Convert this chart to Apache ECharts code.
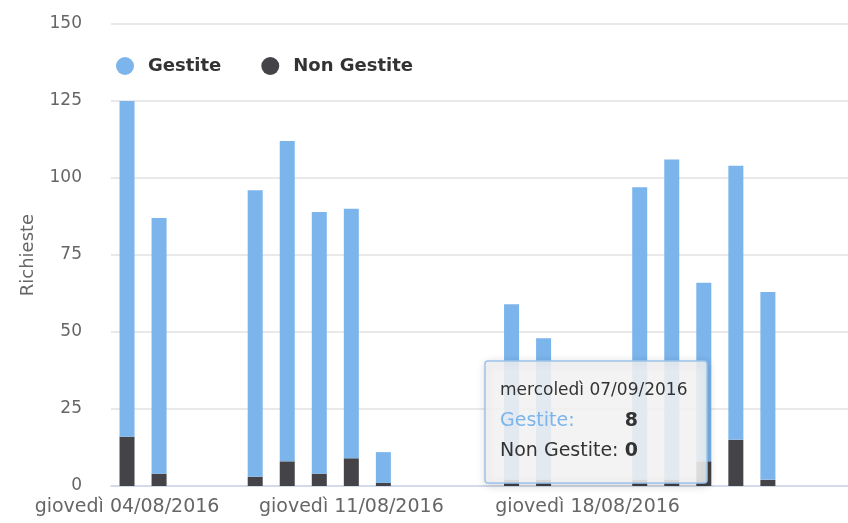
<!DOCTYPE html>
<html>
<head>
<meta charset="utf-8">
<script src="https://cdn.jsdelivr.net/npm/echarts@6/dist/echarts.min.js"></script>
<style>
html,body{margin:0;padding:0;background:#fff;}
#chart{width:848px;height:523px;}
</style>
</head>
<body>
<div id="chart"></div>
<script>
// Categories (days; the mid-August gap is compressed in the reference)
const categories = [
  'giovedì 04/08/2016','venerdì 05/08/2016','sabato 06/08/2016','domenica 07/08/2016',
  'lunedì 08/08/2016','martedì 09/08/2016','mercoledì 10/08/2016','giovedì 11/08/2016',
  'venerdì 12/08/2016','sabato 13/08/2016','lunedì 15/08/2016','mercoledì 17/08/2016',
  'giovedì 18/08/2016','venerdì 19/08/2016','sabato 20/08/2016','domenica 21/08/2016',
  'lunedì 22/08/2016','martedì 23/08/2016','mercoledì 24/08/2016','giovedì 25/08/2016',
  'venerdì 26/08/2016','sabato 27/08/2016','domenica 28/08/2016'
];
const gestite    = [109, 83, null, null, 93, 104, 85, 81, 10, null, null, null, 57, 46, null, null, 95, 104, 58, 89, 61, null, null];
const nonGestite = [16, 4, null, null, 3, 8, 4, 9, 1, null, null, null, 2, 2, null, null, 2, 2, 8, 15, 2, null, null];
const tickLabels = ['giovedì 04/08/2016','giovedì 11/08/2016','giovedì 18/08/2016'];
const shiftedLabel = 'giovedì 18/08/2016';
const yTicks = {min: 0, max: 150, interval: 25};
const seriesNames = ['Gestite', 'Non Gestite'];
const tooltipHeader = 'mercoledì 07/09/2016';
const tooltipRows = [['Gestite:', '8'], ['Non Gestite:', '0']];

const FONT = '"DejaVu Sans", sans-serif';
const tickIdx = tickLabels.map(l => categories.indexOf(l));
const shiftIdx = categories.indexOf(shiftedLabel);

const chart = echarts.init(document.getElementById('chart'), null, {renderer: 'canvas'});
chart.setOption({
  backgroundColor: '#ffffff',
  animation: false,
  grid: {left: 111, right: -2, top: 24, bottom: 37, containLabel: false},
  legend: {
    data: seriesNames,
    icon: 'circle',
    left: 111, top: 52,
    itemWidth: 18, itemHeight: 18,
    itemGap: 40,
    textStyle: {color: '#333333', fontWeight: 'bold', fontSize: 18, fontFamily: FONT, padding: [0, 0, 0, 9]}
  },
  xAxis: {
    type: 'category',
    data: categories,
    boundaryGap: true,
    axisLine: {lineStyle: {color: '#ccd6eb', width: 1.5}},
    axisTick: {
      alignWithLabel: true, length: 10,
      interval: (i) => tickIdx.includes(i),
      lineStyle: {color: '#ccd6eb', width: 1.5}
    },
    axisLabel: {
      interval: (i) => tickIdx.includes(i),
      color: '#666666', fontSize: 19, fontFamily: FONT, margin: 12,
      formatter: (v, i) => (i === shiftIdx ? '{s|' + v + '}' : v),
      rich: {s: {padding: [0, 0, 0, 152], color: '#666666', fontSize: 19, fontFamily: FONT}}
    },
    splitLine: {show: false}
  },
  yAxis: {
    type: 'value',
    min: yTicks.min, max: yTicks.max, interval: yTicks.interval,
    name: 'Richieste',
    nameLocation: 'middle',
    nameGap: 74,
    nameTextStyle: {color: '#666666', fontSize: 18, fontFamily: FONT},
    axisLine: {show: false},
    axisTick: {show: false},
    axisLabel: {color: '#666666', fontSize: 17, fontFamily: FONT, margin: 29},
    splitLine: {lineStyle: {color: '#e9e9e9', width: 2}}
  },
  series: [
    {name: seriesNames[1], type: 'bar', stack: 'tot', data: nonGestite, barWidth: 15,
     itemStyle: {color: '#434348'}},
    {name: seriesNames[0], type: 'bar', stack: 'tot', data: gestite, barWidth: 15,
     itemStyle: {color: '#7cb5ec'}}
  ],
  graphic: [
    {type: 'rect', z: 100, shape: {x: 485, y: 361, width: 222, height: 122, r: 3},
     style: {fill: 'rgba(247,247,247,0.86)', stroke: '#9cc4ec', lineWidth: 1.5,
             shadowBlur: 8, shadowColor: 'rgba(0,0,0,0.18)', shadowOffsetX: 1, shadowOffsetY: 2}},
    {type: 'text', z: 101, x: 500, y: 391,
     style: {text: tooltipHeader, fill: '#333333', fontSize: 17, fontFamily: FONT, verticalAlign: 'middle'}},
    {type: 'text', z: 101, x: 500, y: 421,
     style: {text: tooltipRows[0][0], fill: '#7cb5ec', fontSize: 19, fontFamily: FONT, verticalAlign: 'middle'}},
    {type: 'text', z: 101, x: 638, y: 421,
     style: {text: tooltipRows[0][1], fill: '#333333', fontSize: 19, fontWeight: 'bold', fontFamily: FONT, align: 'right', verticalAlign: 'middle'}},
    {type: 'text', z: 101, x: 500, y: 451,
     style: {text: tooltipRows[1][0], fill: '#333333', fontSize: 19, fontFamily: FONT, verticalAlign: 'middle'}},
    {type: 'text', z: 101, x: 638, y: 451,
     style: {text: tooltipRows[1][1], fill: '#333333', fontSize: 19, fontWeight: 'bold', fontFamily: FONT, align: 'right', verticalAlign: 'middle'}}
  ]
});
</script>
</body>
</html>
